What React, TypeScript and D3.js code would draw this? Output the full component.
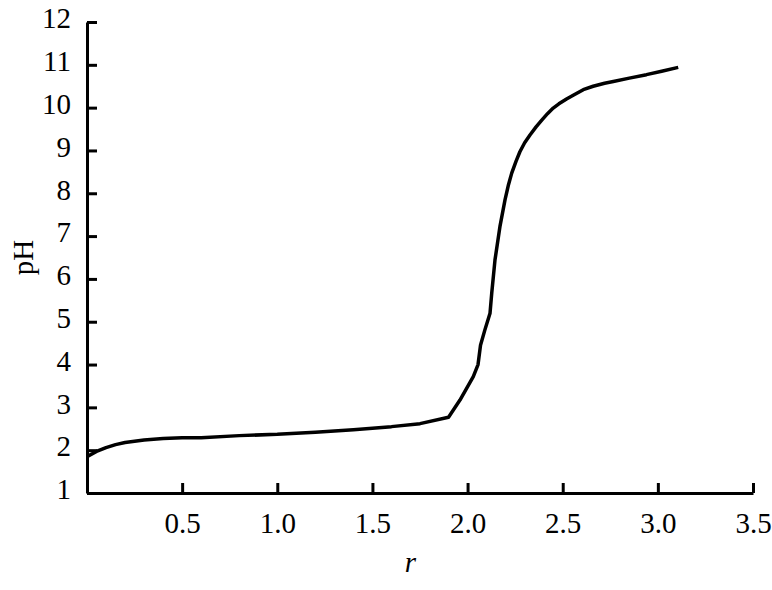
import React, { useEffect, useRef } from "react";
import * as d3 from "d3";

// titration curve
const rValues = [
  0, 0.05, 0.1, 0.15, 0.2, 0.3, 0.4, 0.5, 0.6, 0.8, 1.0, 1.2, 1.4, 1.6, 1.75,
  1.9, 1.96, 2.03, 2.055, 2.068, 2.091, 2.118, 2.127, 2.144, 2.17, 2.197, 2.215,
  2.232, 2.255, 2.275, 2.3, 2.328, 2.36, 2.39, 2.42, 2.45, 2.48, 2.52, 2.56,
  2.608, 2.66, 2.72, 2.766, 2.85, 2.94, 3.02, 3.107,
];
const phValues = [
  1.85, 1.97, 2.06, 2.13, 2.18, 2.24, 2.27, 2.29, 2.29, 2.34, 2.37, 2.42, 2.48,
  2.55, 2.62, 2.77, 3.17, 3.72, 4.0, 4.45, 4.81, 5.2, 5.67, 6.44, 7.22, 7.85,
  8.2, 8.47, 8.75, 8.97, 9.18, 9.36, 9.55, 9.71, 9.86, 9.99, 10.09, 10.2, 10.3,
  10.42, 10.5, 10.57, 10.61, 10.69, 10.77, 10.85, 10.94,
];
const xTicks = [0.5, 1.0, 1.5, 2.0, 2.5, 3.0, 3.5];
const yTicks = [1, 2, 3, 4, 5, 6, 7, 8, 9, 10, 11, 12];

const Chart = ({ width = 772, height = 590 }) => {
  const ref = useRef<SVGSVGElement>(null);

  useEffect(() => {
    const margin = { top: 22, left: 87, bottom: 97, right: 19 };
    const iwidth = width - margin.left - margin.right;
    const iheight = height - margin.top - margin.bottom;
    const font = "'Liberation Serif', 'Times New Roman', serif";

    const svg = d3.select(ref.current);
    svg.selectAll("*").remove();

    const x = d3.scaleLinear().domain([0, 3.5]).range([0, iwidth]);
    const y = d3.scaleLinear().domain([1, 12]).range([iheight, 0]);

    const g = svg
      .append("g")
      .attr("transform", `translate(${margin.left},${margin.top})`);

    // x axis, ticks pointing inward
    const xa = g
      .append("g")
      .attr("transform", `translate(0,${iheight})`)
      .call(
        d3
          .axisBottom(x)
          .tickValues(xTicks)
          .tickFormat(d3.format(".1f"))
          .tickSizeInner(-10)
          .tickSizeOuter(0)
          .tickPadding(19)
      );

    const ya = g.append("g").call(
      d3
        .axisLeft(y)
        .tickValues(yTicks)
        .tickFormat(d3.format("d"))
        .tickSizeInner(-10)
        .tickSizeOuter(0)
        .tickPadding(16)
    );

    [xa, ya].forEach((a) => {
      a.select(".domain").attr("stroke", "#000").attr("stroke-width", 3);
      a.selectAll(".tick line").attr("stroke", "#000").attr("stroke-width", 3);
      a.selectAll("text")
        .attr("fill", "#000")
        .style("font-family", font)
        .style("font-size", "29px");
    });
    ya.selectAll("text").attr("dy", "0.2em");
    xa.selectAll("text").attr("dy", "0.72em");

    const data = rValues.map((r, i) => [r, phValues[i]] as [number, number]);
    g.append("path")
      .datum(data)
      .attr("fill", "none")
      .attr("stroke", "#000")
      .attr("stroke-width", 3.5)
      .attr("stroke-linejoin", "round")
      .attr("d", d3.line().x((d) => x(d[0])).y((d) => y(d[1])));

    svg
      .append("text")
      .attr("transform", `translate(33,${margin.top + iheight / 2}) rotate(-90)`)
      .attr("text-anchor", "middle")
      .style("font-family", font)
      .style("font-size", "29px")
      .text("pH");

    svg
      .append("text")
      .attr("x", margin.left + x(1.7))
      .attr("y", 572)
      .attr("text-anchor", "middle")
      .style("font-family", font)
      .style("font-size", "29px")
      .style("font-style", "italic")
      .text("r");
  });

  return (
    <svg
      ref={ref}
      width={width}
      height={height}
      style={{ position: "absolute", left: 0, top: 0, background: "#fff" }}
    ></svg>
  );
};

export default function App() {
  return <Chart />;
}
